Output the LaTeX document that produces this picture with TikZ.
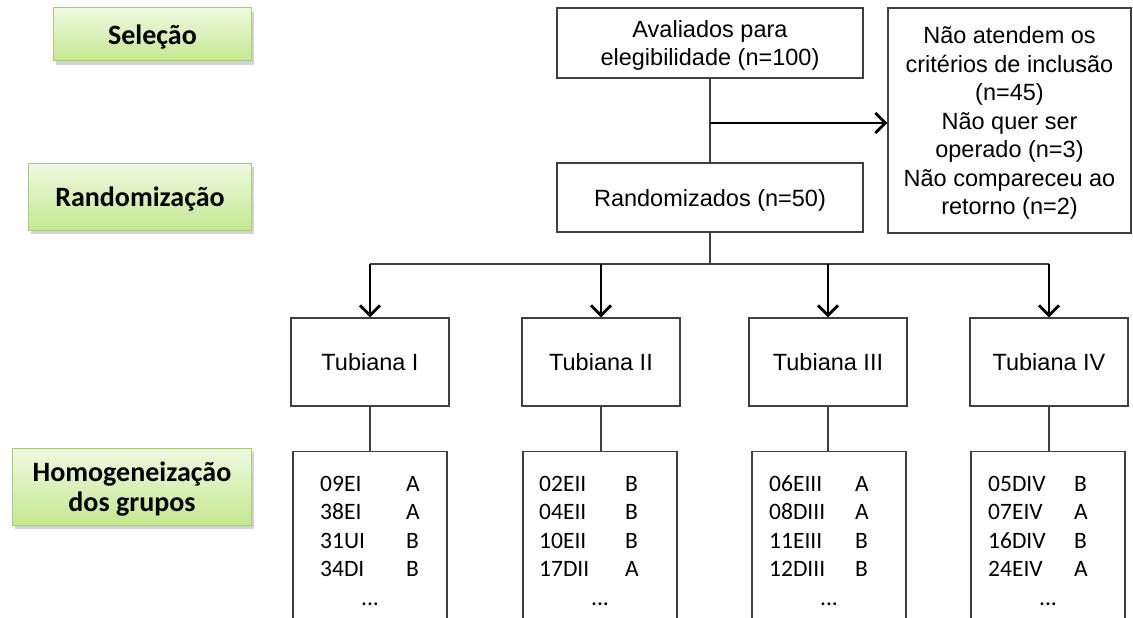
\documentclass[tikz,border=0pt]{standalone}
\usepackage{fontspec}
\setmainfont{Liberation Sans}
\newfontfamily\calibri{Carlito}
\usetikzlibrary{arrows.meta,shadows,positioning}

\definecolor{linegray}{RGB}{64,64,64}
\definecolor{greentop}{RGB}{240,249,224}
\definecolor{greenbot}{RGB}{196,232,146}
\definecolor{greenline}{RGB}{165,205,115}

\newcommand{\boxfont}{\fontsize{23.5}{28.5}\selectfont}
\newcommand{\lstfont}{\calibri\fontsize{23.5}{28.5}\selectfont}
\newcommand{\stagefont}{\calibri\bfseries\fontsize{28}{29.5}\selectfont}

\tikzset{
  box/.style={draw=linegray, line width=1.4pt, inner sep=0pt, align=center, font=\boxfont,
    text depth=-6pt},
  stage/.style={draw=greenline, line width=1pt, top color=greentop, bottom color=greenbot,
    inner sep=0pt, align=center, font=\stagefont, text depth=-3pt,
    drop shadow={shadow xshift=2pt, shadow yshift=-4pt, opacity=0.35}},
  lst/.style={inner sep=0pt, font=\lstfont},
  conn/.style={draw=linegray, line width=1.4pt},
  arr/.style={draw=black, line width=1.4pt, -{Straight Barb[length=10pt,width=20pt,line width=2.8pt]}}
}

\begin{document}
\begin{tikzpicture}[x=1pt,y=-1pt]
        \clip (0,0) rectangle (1133,618);

        % Stages
        \node[stage, minimum width=198pt, minimum height=53pt, anchor=east] (sel) at (252,34.5) {Seleção};
        \node[stage, minimum width=223pt, minimum height=67pt, anchor=east] (rnd) at (252,196.5) {Randomização};
        \node[stage, minimum width=239pt, minimum height=77pt, anchor=east] (hom) at (252,486.5) {Homogeneização\\dos grupos};

        % Selection and randomisation
        \node[box, minimum width=306pt, minimum height=70pt] (aval) at (710,43) {Avaliados para\\elegibilidade (n=100)};
        \node[box, minimum width=306pt, minimum height=69pt] (rand) at (710,197.5) {Randomizados (n=50)};
        \node[box, minimum width=243pt, minimum height=225pt] (excl) at (1009.5,120.5) {Não atendem os\\critérios de inclusão\\(n=45)\\Não quer ser\\operado (n=3)\\Não compareceu ao\\retorno (n=2)};

        % Groups
        \node[box, minimum width=158pt, minimum height=88pt] (tubI) at (370,362) {Tubiana I};
        \node[box, minimum width=158pt, minimum height=88pt] (tubII) at (601,362) {Tubiana II};
        \node[box, minimum width=158pt, minimum height=88pt] (tubIII) at (828,362) {Tubiana III};
        \node[box, minimum width=158pt, minimum height=88pt] (tubIV) at (1049,362) {Tubiana IV};

        % Homogenisation boxes
        \node[box, minimum width=154pt, minimum height=190pt, anchor=north] (grpI) at (370,451) {};
        \node[box, minimum width=154pt, minimum height=190pt, anchor=north] (grpII) at (600,451) {};
        \node[box, minimum width=154pt, minimum height=190pt, anchor=north] (grpIII) at (829,451) {};
        \node[box, minimum width=154pt, minimum height=190pt, anchor=north] (grpIV) at (1048,451) {};

        \node[lst, anchor=north west] (lstI) at (320,471) {\begin{tabular}{@{}p{86pt}@{}l@{}}09EI & A\\38EI & A\\31UI & B\\34DI & B\end{tabular}};
        \node[lst, anchor=north west] (lstII) at (539,471) {\begin{tabular}{@{}p{86pt}@{}l@{}}02EII & B\\04EII & B\\10EII & B\\17DII & A\end{tabular}};
        \node[lst, anchor=north west] (lstIII) at (769,471) {\begin{tabular}{@{}p{86pt}@{}l@{}}06EIII & A\\08DIII & A\\11EIII & B\\12DIII & B\end{tabular}};
        \node[lst, anchor=north west] (lstIV) at (988,471) {\begin{tabular}{@{}p{86pt}@{}l@{}}05DIV & B\\07EIV & A\\16DIV & B\\24EIV & A\end{tabular}};

        \node[lst] (dotsI) at (370,604) {...};
        \node[lst] (dotsII) at (600,604) {...};
        \node[lst] (dotsIII) at (829,604) {...};
        \node[lst] (dotsIV) at (1048,604) {...};

        % Connectors
        \coordinate (split) at (710,123);
        \coordinate (bus) at (710,264);
        \draw[conn] (aval) -- (rand);
        \draw[arr] (split) -- (split -| excl.west);
        \draw[conn] (rand) -- (bus);
        \draw[conn] (tubI.north |- bus) -- (tubIV.north |- bus);
        \draw[arr] (tubI.north |- bus) -- (tubI);
        \draw[arr] (tubII.north |- bus) -- (tubII);
        \draw[arr] (tubIII.north |- bus) -- (tubIII);
        \draw[arr] (tubIV.north |- bus) -- (tubIV);
        \draw[conn] (tubI.south) -- (tubI.south |- grpI.north);
        \draw[conn] (tubII.south) -- (tubII.south |- grpII.north);
        \draw[conn] (tubIII.south) -- (tubIII.south |- grpIII.north);
        \draw[conn] (tubIV.south) -- (tubIV.south |- grpIV.north);
\end{tikzpicture}
\end{document}
